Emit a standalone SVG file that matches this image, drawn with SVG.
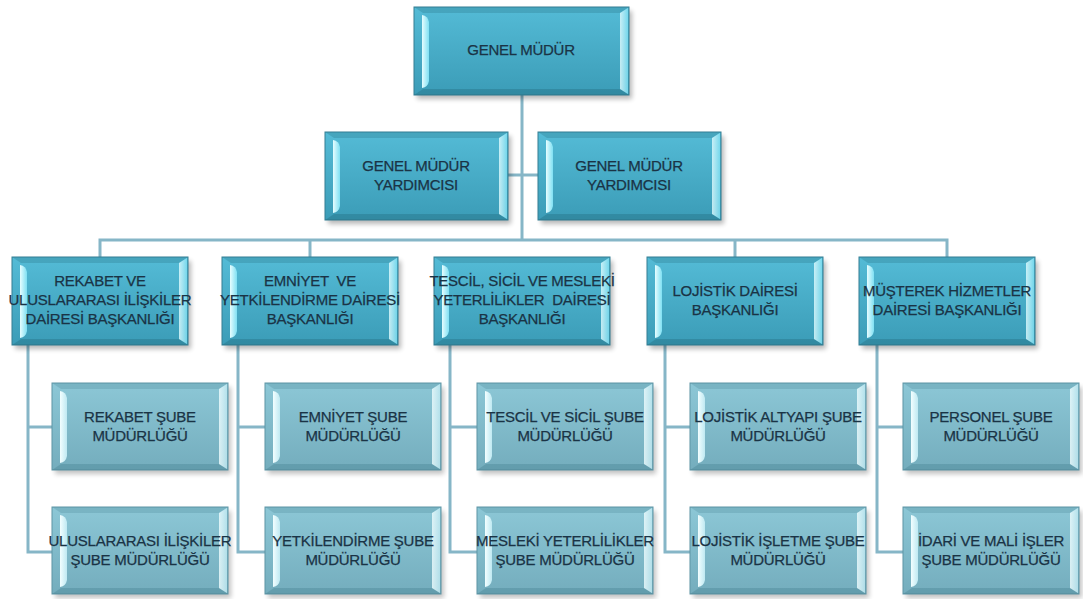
<svg xmlns="http://www.w3.org/2000/svg" width="1083" height="599" viewBox="0 0 1083 599">
  <defs>
    <style>
      .lbl { font-family: "Liberation Sans", Arial, sans-serif; font-size: 15px; letter-spacing: -0.25px; fill: #1a3345; stroke: #1a3345; stroke-width: 0.25px; text-anchor: middle; }
      .wire { fill: none; stroke: #86b6c7; stroke-width: 3; }
    </style>
    <filter id="soft" x="-10%" y="-10%" width="130%" height="140%">
      <feGaussianBlur stdDeviation="2.4"/>
    </filter>
    <linearGradient id="faceBright" x1="0" y1="0" x2="0" y2="1">
      <stop offset="0" stop-color="#54bbd6"/>
      <stop offset="1" stop-color="#3b9cb7"/>
    </linearGradient>
    <linearGradient id="facePale" x1="0" y1="0" x2="0" y2="1">
      <stop offset="0" stop-color="#8cc7d6"/>
      <stop offset="1" stop-color="#74adbd"/>
    </linearGradient>
    <linearGradient id="hiBright" x1="0" y1="0" x2="1" y2="0">
      <stop offset="0" stop-color="#e6fdff"/>
      <stop offset="1" stop-color="#7fe0f3"/>
    </linearGradient>
    <linearGradient id="hiPale" x1="0" y1="0" x2="1" y2="0">
      <stop offset="0" stop-color="#f2feff"/>
      <stop offset="1" stop-color="#bfe9f2"/>
    </linearGradient>

    <!-- bevelled box templates, drawn at the origin -->
    <g id="boxTop">
      <rect x="3" y="4" width="215" height="88" fill="#000" opacity=".28" filter="url(#soft)"/>
      <rect width="215" height="88" fill="url(#faceBright)" stroke="#357f93" stroke-width="1"/>
      <polygon points="0,0 215,0 206,6 9,6" fill="#2f7d92" opacity=".35"/>
      <polygon points="0,88 215,88 206,82 9,82" fill="#1f5f70" opacity=".3"/>
      <path d="M8,8 Q14,9 15,15 L15,74 Q14,80 8,81 Z" fill="url(#hiBright)"/>
      <path d="M206,6 L214,1 L214,87 L206,82 Z" fill="url(#hiBright)" opacity=".8"/>
    </g>
    <g id="boxDep">
      <rect x="3" y="4" width="183" height="88" fill="#000" opacity=".28" filter="url(#soft)"/>
      <rect width="183" height="88" fill="url(#faceBright)" stroke="#357f93" stroke-width="1"/>
      <polygon points="0,0 183,0 174,6 9,6" fill="#2f7d92" opacity=".35"/>
      <polygon points="0,88 183,88 174,82 9,82" fill="#1f5f70" opacity=".3"/>
      <path d="M8,8 Q14,9 15,15 L15,74 Q14,80 8,81 Z" fill="url(#hiBright)"/>
      <path d="M174,6 L182,1 L182,87 L174,82 Z" fill="url(#hiBright)" opacity=".8"/>
    </g>
    <g id="boxDept">
      <rect x="3" y="4" width="176" height="88" fill="#000" opacity=".28" filter="url(#soft)"/>
      <rect width="176" height="88" fill="url(#faceBright)" stroke="#357f93" stroke-width="1"/>
      <polygon points="0,0 176,0 167,6 9,6" fill="#2f7d92" opacity=".35"/>
      <polygon points="0,88 176,88 167,82 9,82" fill="#1f5f70" opacity=".3"/>
      <path d="M8,8 Q14,9 15,15 L15,74 Q14,80 8,81 Z" fill="url(#hiBright)"/>
      <path d="M167,6 L175,1 L175,87 L167,82 Z" fill="url(#hiBright)" opacity=".8"/>
    </g>
    <g id="boxSub">
      <rect x="3" y="4" width="176" height="87" fill="#000" opacity=".24" filter="url(#soft)"/>
      <rect width="176" height="87" fill="url(#facePale)" stroke="#5f95a5" stroke-width="1"/>
      <polygon points="0,0 176,0 167,6 9,6" fill="#4f8a9b" opacity=".3"/>
      <polygon points="0,87 176,87 167,81 9,81" fill="#2f6a7a" opacity=".25"/>
      <path d="M8,8 Q14,9 15,15 L15,73 Q14,79 8,80 Z" fill="url(#hiPale)"/>
      <path d="M167,6 L175,1 L175,86 L167,81 Z" fill="url(#hiPale)" opacity=".8"/>
    </g>
  </defs>

  <rect width="1083" height="599" fill="#ffffff"/>

  <!-- connectors -->
  <g id="connectors" class="wire">
    <path d="M522,95 V240"/>
    <path d="M508,175 H538"/>
    <path d="M100,257 V240 H947 V257"/>
    <path d="M310,240 V257"/>
    <path d="M735,240 V257"/>
    <path d="M28,345 V552 H52 M28,427 H52"/>
    <path d="M238,345 V552 H265 M238,427 H265"/>
    <path d="M450,345 V552 H477 M450,427 H477"/>
    <path d="M665,345 V552 H690 M665,427 H690"/>
    <path d="M877,345 V552 H903 M877,427 H903"/>
  </g>

  <!-- top level -->
  <g id="genel-mudur">
    <use href="#boxTop" x="414" y="7"/>
    <text class="lbl" x="521" y="55">GENEL MÜDÜR</text>
  </g>

  <!-- deputies -->
  <g id="yardimci-1">
    <use href="#boxDep" x="325" y="132"/>
    <text class="lbl" x="416" y="171">GENEL MÜDÜR</text>
    <text class="lbl" x="416" y="190">YARDIMCISI</text>
  </g>
  <g id="yardimci-2">
    <use href="#boxDep" x="538" y="132"/>
    <text class="lbl" x="629" y="171">GENEL MÜDÜR</text>
    <text class="lbl" x="629" y="190">YARDIMCISI</text>
  </g>

  <!-- departments -->
  <g id="rekabet-daire">
    <use href="#boxDept" x="12" y="257"/>
    <text class="lbl" x="100" y="286">REKABET VE</text>
    <text class="lbl" x="100" y="305">ULUSLARARASI İLİŞKİLER</text>
    <text class="lbl" x="100" y="324">DAİRESİ BAŞKANLIĞI</text>
  </g>
  <g id="emniyet-daire">
    <use href="#boxDept" x="222" y="257"/>
    <text class="lbl" x="310" y="286" xml:space="preserve">EMNİYET  VE</text>
    <text class="lbl" x="310" y="305">YETKİLENDİRME DAİRESİ</text>
    <text class="lbl" x="310" y="324">BAŞKANLIĞI</text>
  </g>
  <g id="tescil-daire">
    <use href="#boxDept" x="434" y="257"/>
    <text class="lbl" x="522" y="286">TESCİL, SİCİL VE MESLEKİ</text>
    <text class="lbl" x="522" y="305" xml:space="preserve">YETERLİLİKLER  DAİRESİ</text>
    <text class="lbl" x="522" y="324">BAŞKANLIĞI</text>
  </g>
  <g id="lojistik-daire">
    <use href="#boxDept" x="647" y="257"/>
    <text class="lbl" x="735" y="296">LOJİSTİK DAİRESİ</text>
    <text class="lbl" x="735" y="315">BAŞKANLIĞI</text>
  </g>
  <g id="musterek-daire">
    <use href="#boxDept" x="859" y="257"/>
    <text class="lbl" x="947" y="296">MÜŞTEREK HİZMETLER</text>
    <text class="lbl" x="947" y="315">DAİRESİ BAŞKANLIĞI</text>
  </g>

  <!-- branch offices, row 1 -->
  <g id="rekabet-sube">
    <use href="#boxSub" x="52" y="383"/>
    <text class="lbl" x="140" y="422">REKABET ŞUBE</text>
    <text class="lbl" x="140" y="441">MÜDÜRLÜĞÜ</text>
  </g>
  <g id="emniyet-sube">
    <use href="#boxSub" x="265" y="383"/>
    <text class="lbl" x="353" y="422">EMNİYET ŞUBE</text>
    <text class="lbl" x="353" y="441">MÜDÜRLÜĞÜ</text>
  </g>
  <g id="tescil-sube">
    <use href="#boxSub" x="477" y="383"/>
    <text class="lbl" x="565" y="422">TESCİL VE SİCİL ŞUBE</text>
    <text class="lbl" x="565" y="441">MÜDÜRLÜĞÜ</text>
  </g>
  <g id="altyapi-sube">
    <use href="#boxSub" x="690" y="383"/>
    <text class="lbl" x="778" y="422">LOJİSTİK ALTYAPI ŞUBE</text>
    <text class="lbl" x="778" y="441">MÜDÜRLÜĞÜ</text>
  </g>
  <g id="personel-sube">
    <use href="#boxSub" x="903" y="383"/>
    <text class="lbl" x="991" y="422">PERSONEL ŞUBE</text>
    <text class="lbl" x="991" y="441">MÜDÜRLÜĞÜ</text>
  </g>

  <!-- branch offices, row 2 -->
  <g id="iliskiler-sube">
    <use href="#boxSub" x="52" y="507"/>
    <text class="lbl" x="140" y="546">ULUSLARARASI İLİŞKİLER</text>
    <text class="lbl" x="140" y="565">ŞUBE MÜDÜRLÜĞÜ</text>
  </g>
  <g id="yetkilendirme-sube">
    <use href="#boxSub" x="265" y="507"/>
    <text class="lbl" x="353" y="546">YETKİLENDİRME ŞUBE</text>
    <text class="lbl" x="353" y="565">MÜDÜRLÜĞÜ</text>
  </g>
  <g id="yeterlilik-sube">
    <use href="#boxSub" x="477" y="507"/>
    <text class="lbl" x="565" y="546">MESLEKİ YETERLİLİKLER</text>
    <text class="lbl" x="565" y="565">ŞUBE MÜDÜRLÜĞÜ</text>
  </g>
  <g id="isletme-sube">
    <use href="#boxSub" x="690" y="507"/>
    <text class="lbl" x="778" y="546">LOJİSTİK İŞLETME ŞUBE</text>
    <text class="lbl" x="778" y="565">MÜDÜRLÜĞÜ</text>
  </g>
  <g id="idari-sube">
    <use href="#boxSub" x="903" y="507"/>
    <text class="lbl" x="991" y="546">İDARİ VE MALİ İŞLER</text>
    <text class="lbl" x="991" y="565">ŞUBE MÜDÜRLÜĞÜ</text>
  </g>
</svg>
